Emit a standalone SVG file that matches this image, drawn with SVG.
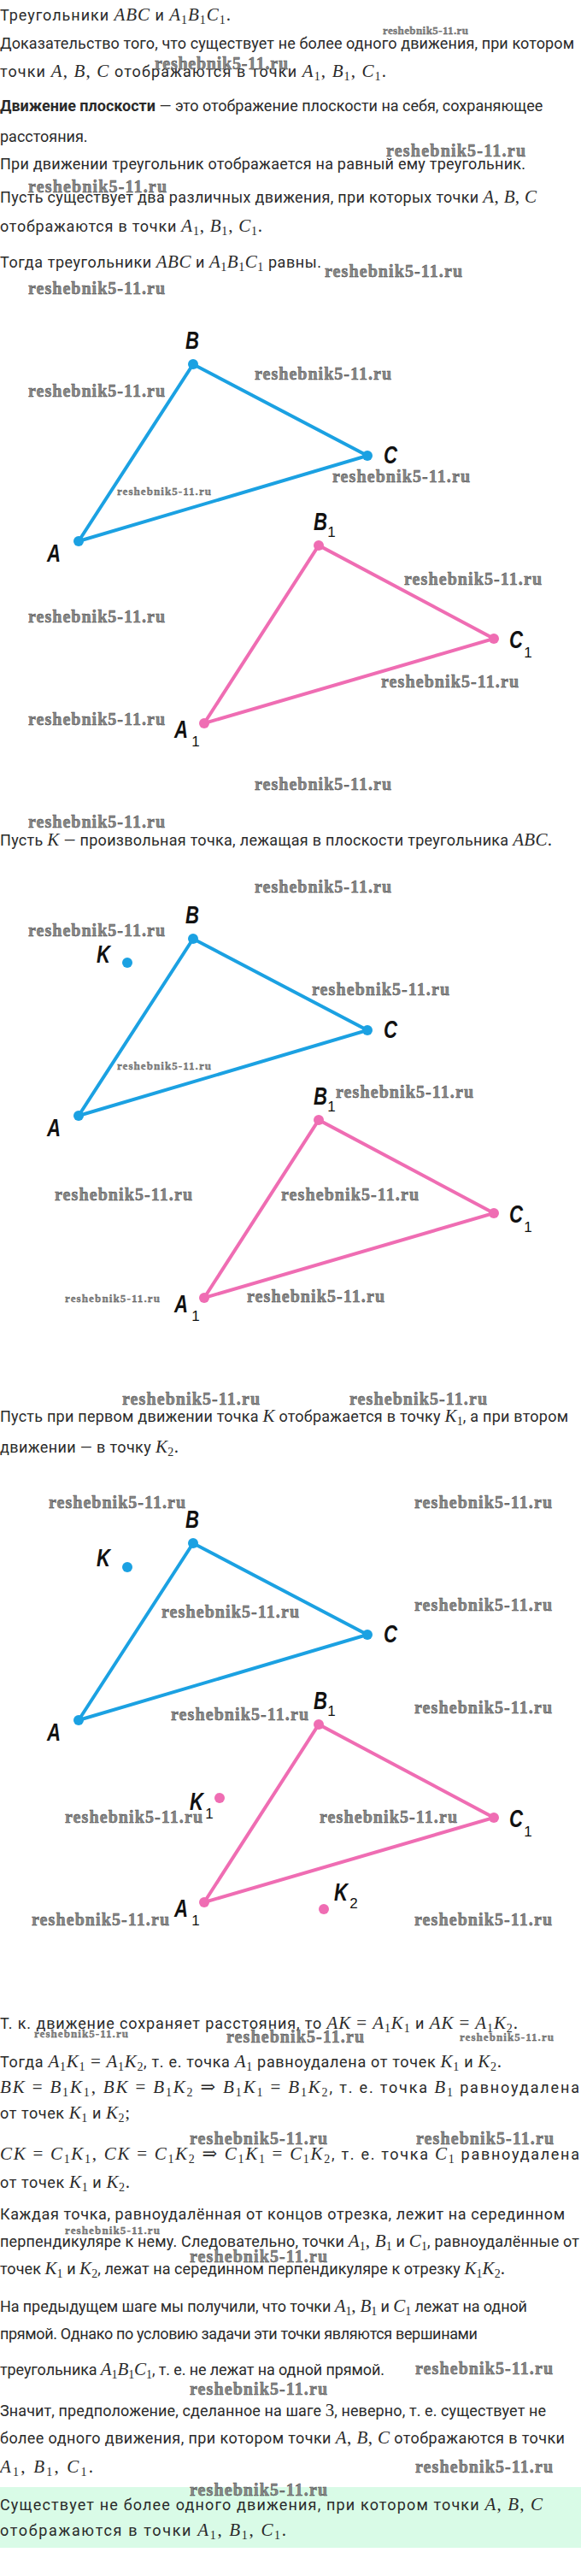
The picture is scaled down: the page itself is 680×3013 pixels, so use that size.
<svg xmlns="http://www.w3.org/2000/svg" width="680" height="3013" viewBox="0 0 680 3013">
<style>
.t{font-family:Roboto,"Liberation Sans",sans-serif;font-size:18px;fill:#2a2a2a}
.m{font-family:"Liberation Serif","DejaVu Serif",serif;font-style:italic;font-size:21px}
.r{font-family:"Liberation Serif","DejaVu Serif",serif;font-style:normal;font-size:21px}
.s{font-family:"Liberation Serif","DejaVu Serif",serif;font-style:normal;font-size:14px}
.wm{font-family:"Liberation Serif","DejaVu Serif",serif;font-weight:bold;font-size:20px;fill:#8a8a8a;stroke:#404040;stroke-width:0.45}
.ws{font-family:"Liberation Serif","DejaVu Serif",serif;font-weight:bold;font-size:13px;fill:#8a8a8a;stroke:#404040;stroke-width:0.3}
.lb{font-family:"Liberation Sans",Arial,sans-serif;font-weight:bold;font-style:italic;font-size:29px;fill:#111}
.ls{font-family:"Liberation Sans",Arial,sans-serif;font-size:17px;fill:#111}
.eb{stroke:#1ba1e2;stroke-width:4;stroke-linecap:round;fill:none}
.ep{stroke:#ef6db3;stroke-width:4;stroke-linecap:round;fill:none}
.db{fill:#1ba1e2}
.dp{fill:#ef6db3}
</style>
<rect width="680" height="3013" fill="#fff"/>
<rect id="answer-box" x="0" y="2909" width="680" height="71" fill="#d9fbe7"/>

<g id="text-top">
<text class="t" x="0" y="24" textLength="270">Треугольники <tspan class="m">ABC</tspan> и <tspan class="m">A</tspan><tspan class="s" dy="4">1</tspan><tspan class="m" dy="-4">B</tspan><tspan class="s" dy="4">1</tspan><tspan class="m" dy="-4">C</tspan><tspan class="s" dy="4">1</tspan><tspan class="r" dy="-4">.</tspan></text>
<text class="t" x="0" y="57" textLength="672">Доказательство того, что существует не более одного движения, при котором</text>
<text class="t" x="0" y="90" textLength="452">точки <tspan class="m">A</tspan><tspan class="r">, </tspan><tspan class="m">B</tspan><tspan class="r">, </tspan><tspan class="m">C</tspan> отображаются в точки <tspan class="m">A</tspan><tspan class="s" dy="4">1</tspan><tspan class="r" dy="-4">, </tspan><tspan class="m">B</tspan><tspan class="s" dy="4">1</tspan><tspan class="r" dy="-4">, </tspan><tspan class="m">C</tspan><tspan class="s" dy="4">1</tspan><tspan class="r" dy="-4">.</tspan></text>
<text class="t" x="0" y="130"><tspan font-weight="bold">Движение плоскости</tspan> — это отображение плоскости на себя, сохраняющее</text>
<text class="t" x="0" y="166">расстояния.</text>
<text class="t" x="0" y="198" textLength="615">При движении треугольник отображается на равный ему треугольник.</text>
<text class="t" x="0" y="237" textLength="628">Пусть существует два различных движения, при которых точки <tspan class="m">A</tspan><tspan class="r">, </tspan><tspan class="m">B</tspan><tspan class="r">, </tspan><tspan class="m">C</tspan></text>
<text class="t" x="0" y="271" textLength="307">отображаются в точки <tspan class="m">A</tspan><tspan class="s" dy="4">1</tspan><tspan class="r" dy="-4">, </tspan><tspan class="m">B</tspan><tspan class="s" dy="4">1</tspan><tspan class="r" dy="-4">, </tspan><tspan class="m">C</tspan><tspan class="s" dy="4">1</tspan><tspan class="r" dy="-4">.</tspan></text>
<text class="t" x="0" y="313" textLength="376">Тогда треугольники <tspan class="m">ABC</tspan> и <tspan class="m">A</tspan><tspan class="s" dy="4">1</tspan><tspan class="m" dy="-4">B</tspan><tspan class="s" dy="4">1</tspan><tspan class="m" dy="-4">C</tspan><tspan class="s" dy="4">1</tspan><tspan dy="-4"> равны.</tspan></text>
</g>

<g id="text-mid">
<text class="t" x="0" y="989" textLength="646">Пусть <tspan class="m">K</tspan> — произвольная точка, лежащая в плоскости треугольника <tspan class="m">ABC</tspan><tspan class="r">.</tspan></text>
<text class="t" x="0" y="1663" textLength="665">Пусть при первом движении точка <tspan class="m">K</tspan> отображается в точку <tspan class="m">K</tspan><tspan class="s" dy="4">1</tspan><tspan dy="-4">, а при втором</tspan></text>
<text class="t" x="0" y="1699" textLength="209">движении — в точку <tspan class="m">K</tspan><tspan class="s" dy="4">2</tspan><tspan class="r" dy="-4">.</tspan></text>
</g>

<g id="text-bottom">
<text class="t" x="0" y="2373" textLength="606">Т. к. движение сохраняет расстояния, то <tspan class="m">AK</tspan><tspan class="r"> = </tspan><tspan class="m">A</tspan><tspan class="s" dy="4">1</tspan><tspan class="m" dy="-4">K</tspan><tspan class="s" dy="4">1</tspan><tspan dy="-4"> и </tspan><tspan class="m">AK</tspan><tspan class="r"> = </tspan><tspan class="m">A</tspan><tspan class="s" dy="4">1</tspan><tspan class="m" dy="-4">K</tspan><tspan class="s" dy="4">2</tspan><tspan class="r" dy="-4">.</tspan></text>
<text class="t" x="0" y="2418" textLength="587">Тогда <tspan class="m">A</tspan><tspan class="s" dy="4">1</tspan><tspan class="m" dy="-4">K</tspan><tspan class="s" dy="4">1</tspan><tspan class="r" dy="-4"> = </tspan><tspan class="m">A</tspan><tspan class="s" dy="4">1</tspan><tspan class="m" dy="-4">K</tspan><tspan class="s" dy="4">2</tspan><tspan dy="-4">, т. е. точка </tspan><tspan class="m">A</tspan><tspan class="s" dy="4">1</tspan><tspan dy="-4"> равноудалена от точек </tspan><tspan class="m">K</tspan><tspan class="s" dy="4">1</tspan><tspan dy="-4"> и </tspan><tspan class="m">K</tspan><tspan class="s" dy="4">2</tspan><tspan class="r" dy="-4">.</tspan></text>
<text class="t" x="0" y="2448" textLength="678"><tspan class="m">BK</tspan><tspan class="r"> = </tspan><tspan class="m">B</tspan><tspan class="s" dy="4">1</tspan><tspan class="m" dy="-4">K</tspan><tspan class="s" dy="4">1</tspan><tspan class="r" dy="-4">, </tspan><tspan class="m">BK</tspan><tspan class="r"> = </tspan><tspan class="m">B</tspan><tspan class="s" dy="4">1</tspan><tspan class="m" dy="-4">K</tspan><tspan class="s" dy="4">2</tspan><tspan class="r" dy="-4"> ⇒ </tspan><tspan class="m">B</tspan><tspan class="s" dy="4">1</tspan><tspan class="m" dy="-4">K</tspan><tspan class="s" dy="4">1</tspan><tspan class="r" dy="-4"> = </tspan><tspan class="m">B</tspan><tspan class="s" dy="4">1</tspan><tspan class="m" dy="-4">K</tspan><tspan class="s" dy="4">2</tspan><tspan dy="-4">, т. е. точка </tspan><tspan class="m">B</tspan><tspan class="s" dy="4">1</tspan><tspan dy="-4"> равноудалена</tspan></text>
<text class="t" x="0" y="2478" textLength="152">от точек <tspan class="m">K</tspan><tspan class="s" dy="4">1</tspan><tspan dy="-4"> и </tspan><tspan class="m">K</tspan><tspan class="s" dy="4">2</tspan><tspan class="r" dy="-4">;</tspan></text>
<text class="t" x="0" y="2526" textLength="678"><tspan class="m">CK</tspan><tspan class="r"> = </tspan><tspan class="m">C</tspan><tspan class="s" dy="4">1</tspan><tspan class="m" dy="-4">K</tspan><tspan class="s" dy="4">1</tspan><tspan class="r" dy="-4">, </tspan><tspan class="m">CK</tspan><tspan class="r"> = </tspan><tspan class="m">C</tspan><tspan class="s" dy="4">1</tspan><tspan class="m" dy="-4">K</tspan><tspan class="s" dy="4">2</tspan><tspan class="r" dy="-4"> ⇒ </tspan><tspan class="m">C</tspan><tspan class="s" dy="4">1</tspan><tspan class="m" dy="-4">K</tspan><tspan class="s" dy="4">1</tspan><tspan class="r" dy="-4"> = </tspan><tspan class="m">C</tspan><tspan class="s" dy="4">1</tspan><tspan class="m" dy="-4">K</tspan><tspan class="s" dy="4">2</tspan><tspan dy="-4">, т. е. точка </tspan><tspan class="m">C</tspan><tspan class="s" dy="4">1</tspan><tspan dy="-4"> равноудалена</tspan></text>
<text class="t" x="0" y="2559" textLength="152">от точек <tspan class="m">K</tspan><tspan class="s" dy="4">1</tspan><tspan dy="-4"> и </tspan><tspan class="m">K</tspan><tspan class="s" dy="4">2</tspan><tspan class="r" dy="-4">.</tspan></text>
<text class="t" x="0" y="2596" textLength="661">Каждая точка, равноудалённая от концов отрезка, лежит на серединном</text>
<text class="t" x="0" y="2628" textLength="678">перпендикуляре к нему. Следовательно, точки <tspan class="m">A</tspan><tspan class="s" dy="4">1</tspan><tspan class="r" dy="-4">, </tspan><tspan class="m">B</tspan><tspan class="s" dy="4">1</tspan><tspan dy="-4"> и </tspan><tspan class="m">C</tspan><tspan class="s" dy="4">1</tspan><tspan dy="-4">, равноудалённые от</tspan></text>
<text class="t" x="0" y="2660" textLength="591">точек <tspan class="m">K</tspan><tspan class="s" dy="4">1</tspan><tspan dy="-4"> и </tspan><tspan class="m">K</tspan><tspan class="s" dy="4">2</tspan><tspan dy="-4">, лежат на серединном перпендикуляре к отрезку </tspan><tspan class="m">K</tspan><tspan class="s" dy="4">1</tspan><tspan class="m" dy="-4">K</tspan><tspan class="s" dy="4">2</tspan><tspan class="r" dy="-4">.</tspan></text>
<text class="t" x="0" y="2704" textLength="617">На предыдущем шаге мы получили, что точки <tspan class="m">A</tspan><tspan class="s" dy="4">1</tspan><tspan class="r" dy="-4">, </tspan><tspan class="m">B</tspan><tspan class="s" dy="4">1</tspan><tspan dy="-4"> и </tspan><tspan class="m">C</tspan><tspan class="s" dy="4">1</tspan><tspan dy="-4"> лежат на одной</tspan></text>
<text class="t" x="0" y="2736" textLength="559">прямой. Однако по условию задачи эти точки являются вершинами</text>
<text class="t" x="0" y="2778" textLength="450">треугольника <tspan class="m">A</tspan><tspan class="s" dy="4">1</tspan><tspan class="m" dy="-4">B</tspan><tspan class="s" dy="4">1</tspan><tspan class="m" dy="-4">C</tspan><tspan class="s" dy="4">1</tspan><tspan dy="-4">, т. е. не лежат на одной прямой.</tspan></text>
<text class="t" x="0" y="2826" textLength="639">Значит, предположение, сделанное на шаге <tspan class="r">3</tspan>, неверно, т. е. существует не</text>
<text class="t" x="0" y="2858" textLength="661">более одного движения, при котором точки <tspan class="m">A</tspan><tspan class="r">, </tspan><tspan class="m">B</tspan><tspan class="r">, </tspan><tspan class="m">C</tspan> отображаются в точки</text>
<text class="t" x="0" y="2892" textLength="109"><tspan class="m">A</tspan><tspan class="s" dy="4">1</tspan><tspan class="r" dy="-4">, </tspan><tspan class="m">B</tspan><tspan class="s" dy="4">1</tspan><tspan class="r" dy="-4">, </tspan><tspan class="m">C</tspan><tspan class="s" dy="4">1</tspan><tspan class="r" dy="-4">.</tspan></text>
<text class="t" x="0" y="2936" textLength="635">Существует не более одного движения, при котором точки <tspan class="m">A</tspan><tspan class="r">, </tspan><tspan class="m">B</tspan><tspan class="r">, </tspan><tspan class="m">C</tspan></text>
<text class="t" x="0" y="2966" textLength="335">отображаются в точки <tspan class="m">A</tspan><tspan class="s" dy="4">1</tspan><tspan class="r" dy="-4">, </tspan><tspan class="m">B</tspan><tspan class="s" dy="4">1</tspan><tspan class="r" dy="-4">, </tspan><tspan class="m">C</tspan><tspan class="s" dy="4">1</tspan><tspan class="r" dy="-4">.</tspan></text>
</g>

<g id="connectors">
<polygon class="eb" points="92,633 226,426 430,533"/>
<polygon class="ep" points="239,846 373,638 578,747"/>
<polygon class="eb" points="92,1305 226,1098 430,1205"/>
<polygon class="ep" points="239,1518 373,1310 578,1419"/>
<polygon class="eb" points="92,2012 226,1805 430,1912"/>
<polygon class="ep" points="239,2225 373,2017 578,2126"/>
</g>

<g id="set1">
<g id="s1-A"><circle class="db" cx="92" cy="633" r="6"/><text class="lb" x="63" y="657" text-anchor="middle" textLength="16" lengthAdjust="spacingAndGlyphs">A</text></g>
<g id="s1-B"><circle class="db" cx="226" cy="426" r="6"/><text class="lb" x="225" y="408" text-anchor="middle" textLength="16" lengthAdjust="spacingAndGlyphs">B</text></g>
<g id="s1-C"><circle class="db" cx="430" cy="533" r="6"/><text class="lb" x="457" y="542" text-anchor="middle" textLength="16" lengthAdjust="spacingAndGlyphs">C</text></g>
<g id="s1-A1"><circle class="dp" cx="239" cy="846" r="6"/><text class="lb" x="212" y="863" text-anchor="middle" textLength="16" lengthAdjust="spacingAndGlyphs">A</text><text class="ls" x="229" y="873" text-anchor="middle">1</text></g>
<g id="s1-B1"><circle class="dp" cx="373" cy="638" r="6"/><text class="lb" x="375" y="620" text-anchor="middle" textLength="16" lengthAdjust="spacingAndGlyphs">B</text><text class="ls" x="388" y="628" text-anchor="middle">1</text></g>
<g id="s1-C1"><circle class="dp" cx="578" cy="747" r="6"/><text class="lb" x="604" y="758" text-anchor="middle" textLength="16" lengthAdjust="spacingAndGlyphs">C</text><text class="ls" x="618" y="769" text-anchor="middle">1</text></g>
</g>

<g id="set2">
<g id="s2-A"><circle class="db" cx="92" cy="1305" r="6"/><text class="lb" x="63" y="1329" text-anchor="middle" textLength="16" lengthAdjust="spacingAndGlyphs">A</text></g>
<g id="s2-B"><circle class="db" cx="226" cy="1098" r="6"/><text class="lb" x="225" y="1080" text-anchor="middle" textLength="16" lengthAdjust="spacingAndGlyphs">B</text></g>
<g id="s2-C"><circle class="db" cx="430" cy="1205" r="6"/><text class="lb" x="457" y="1214" text-anchor="middle" textLength="16" lengthAdjust="spacingAndGlyphs">C</text></g>
<g id="s2-K"><circle class="db" cx="149" cy="1126" r="6"/><text class="lb" x="121" y="1126" text-anchor="middle" textLength="16" lengthAdjust="spacingAndGlyphs">K</text></g>
<g id="s2-A1"><circle class="dp" cx="239" cy="1518" r="6"/><text class="lb" x="212" y="1535" text-anchor="middle" textLength="16" lengthAdjust="spacingAndGlyphs">A</text><text class="ls" x="229" y="1545" text-anchor="middle">1</text></g>
<g id="s2-B1"><circle class="dp" cx="373" cy="1310" r="6"/><text class="lb" x="375" y="1292" text-anchor="middle" textLength="16" lengthAdjust="spacingAndGlyphs">B</text><text class="ls" x="388" y="1300" text-anchor="middle">1</text></g>
<g id="s2-C1"><circle class="dp" cx="578" cy="1419" r="6"/><text class="lb" x="604" y="1430" text-anchor="middle" textLength="16" lengthAdjust="spacingAndGlyphs">C</text><text class="ls" x="618" y="1441" text-anchor="middle">1</text></g>
</g>

<g id="set3">
<g id="s3-A"><circle class="db" cx="92" cy="2012" r="6"/><text class="lb" x="63" y="2036" text-anchor="middle" textLength="16" lengthAdjust="spacingAndGlyphs">A</text></g>
<g id="s3-B"><circle class="db" cx="226" cy="1805" r="6"/><text class="lb" x="225" y="1787" text-anchor="middle" textLength="16" lengthAdjust="spacingAndGlyphs">B</text></g>
<g id="s3-C"><circle class="db" cx="430" cy="1912" r="6"/><text class="lb" x="457" y="1921" text-anchor="middle" textLength="16" lengthAdjust="spacingAndGlyphs">C</text></g>
<g id="s3-K"><circle class="db" cx="149" cy="1833" r="6"/><text class="lb" x="121" y="1832" text-anchor="middle" textLength="16" lengthAdjust="spacingAndGlyphs">K</text></g>
<g id="s3-A1"><circle class="dp" cx="239" cy="2225" r="6"/><text class="lb" x="212" y="2242" text-anchor="middle" textLength="16" lengthAdjust="spacingAndGlyphs">A</text><text class="ls" x="229" y="2252" text-anchor="middle">1</text></g>
<g id="s3-B1"><circle class="dp" cx="373" cy="2017" r="6"/><text class="lb" x="375" y="1999" text-anchor="middle" textLength="16" lengthAdjust="spacingAndGlyphs">B</text><text class="ls" x="388" y="2007" text-anchor="middle">1</text></g>
<g id="s3-C1"><circle class="dp" cx="578" cy="2126" r="6"/><text class="lb" x="604" y="2137" text-anchor="middle" textLength="16" lengthAdjust="spacingAndGlyphs">C</text><text class="ls" x="618" y="2148" text-anchor="middle">1</text></g>
<g id="s3-K1"><circle class="dp" cx="257" cy="2103" r="6"/><text class="lb" x="230" y="2117" text-anchor="middle" textLength="16" lengthAdjust="spacingAndGlyphs">K</text><text class="ls" x="245" y="2127" text-anchor="middle">1</text></g>
<g id="s3-K2"><circle class="dp" cx="379" cy="2233" r="6"/><text class="lb" x="399" y="2223" text-anchor="middle" textLength="16" lengthAdjust="spacingAndGlyphs">K</text><text class="ls" x="414" y="2232" text-anchor="middle">2</text></g>
</g>

<g id="watermarks">
<text class="ws" x="448" y="40" textLength="100">reshebnik5-11.ru</text>
<text class="wm" x="181" y="81" textLength="156">reshebnik5-11.ru</text>
<text class="wm" x="452" y="183" textLength="163">reshebnik5-11.ru</text>
<text class="wm" x="33" y="225" textLength="162">reshebnik5-11.ru</text>
<text class="wm" x="380" y="324" textLength="161">reshebnik5-11.ru</text>
<text class="wm" x="33" y="344" textLength="160">reshebnik5-11.ru</text>
<text class="wm" x="298" y="444" textLength="160">reshebnik5-11.ru</text>
<text class="wm" x="33" y="464" textLength="160">reshebnik5-11.ru</text>
<text class="wm" x="389" y="564" textLength="161">reshebnik5-11.ru</text>
<text class="ws" x="137" y="579" textLength="110">reshebnik5-11.ru</text>
<text class="wm" x="473" y="684" textLength="161">reshebnik5-11.ru</text>
<text class="wm" x="33" y="728" textLength="160">reshebnik5-11.ru</text>
<text class="wm" x="446" y="804" textLength="161">reshebnik5-11.ru</text>
<text class="wm" x="33" y="848" textLength="160">reshebnik5-11.ru</text>
<text class="wm" x="298" y="924" textLength="160">reshebnik5-11.ru</text>
<text class="wm" x="33" y="968" textLength="160">reshebnik5-11.ru</text>
<text class="wm" x="298" y="1044" textLength="160">reshebnik5-11.ru</text>
<text class="wm" x="33" y="1095" textLength="160">reshebnik5-11.ru</text>
<text class="wm" x="365" y="1164" textLength="161">reshebnik5-11.ru</text>
<text class="ws" x="137" y="1251" textLength="110">reshebnik5-11.ru</text>
<text class="wm" x="393" y="1284" textLength="161">reshebnik5-11.ru</text>
<text class="wm" x="64" y="1404" textLength="161">reshebnik5-11.ru</text>
<text class="wm" x="329" y="1404" textLength="161">reshebnik5-11.ru</text>
<text class="ws" x="76" y="1523" textLength="111">reshebnik5-11.ru</text>
<text class="wm" x="289" y="1523" textLength="161">reshebnik5-11.ru</text>
<text class="wm" x="143" y="1643" textLength="161">reshebnik5-11.ru</text>
<text class="wm" x="409" y="1643" textLength="161">reshebnik5-11.ru</text>
<text class="wm" x="57" y="1764" textLength="160">reshebnik5-11.ru</text>
<text class="wm" x="485" y="1764" textLength="161">reshebnik5-11.ru</text>
<text class="wm" x="189" y="1892" textLength="161">reshebnik5-11.ru</text>
<text class="wm" x="485" y="1884" textLength="161">reshebnik5-11.ru</text>
<text class="wm" x="200" y="2012" textLength="161">reshebnik5-11.ru</text>
<text class="wm" x="485" y="2004" textLength="161">reshebnik5-11.ru</text>
<text class="wm" x="76" y="2132" textLength="161">reshebnik5-11.ru</text>
<text class="wm" x="374" y="2132" textLength="161">reshebnik5-11.ru</text>
<text class="wm" x="37" y="2252" textLength="161">reshebnik5-11.ru</text>
<text class="wm" x="485" y="2252" textLength="161">reshebnik5-11.ru</text>
<text class="ws" x="40" y="2383" textLength="110">reshebnik5-11.ru</text>
<text class="wm" x="265" y="2389" textLength="161">reshebnik5-11.ru</text>
<text class="ws" x="538" y="2387" textLength="110">reshebnik5-11.ru</text>
<text class="wm" x="222" y="2508" textLength="161">reshebnik5-11.ru</text>
<text class="wm" x="487" y="2508" textLength="161">reshebnik5-11.ru</text>
<text class="ws" x="76" y="2613" textLength="111">reshebnik5-11.ru</text>
<text class="wm" x="222" y="2646" textLength="161">reshebnik5-11.ru</text>
<text class="wm" x="486" y="2777" textLength="161">reshebnik5-11.ru</text>
<text class="wm" x="222" y="2801" textLength="161">reshebnik5-11.ru</text>
<text class="wm" x="486" y="2892" textLength="161">reshebnik5-11.ru</text>
<text class="wm" x="222" y="2919" textLength="161">reshebnik5-11.ru</text>
</g>
</svg>
